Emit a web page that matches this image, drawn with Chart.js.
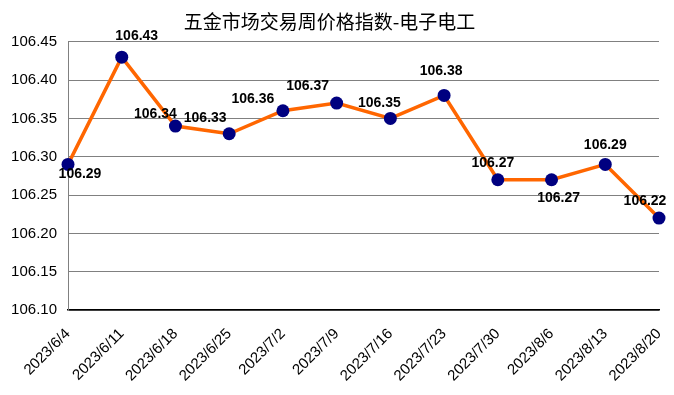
<!DOCTYPE html>
<html>
<head>
<meta charset="utf-8">
<script src="https://cdn.jsdelivr.net/npm/chart.js@4.4.0/dist/chart.umd.min.js"></script>
<style>
  html, body { margin: 0; padding: 0; background: #fff; }
  #wrap { width: 674px; height: 395px; position: relative; }
</style>
</head>
<body>
<div id="wrap"><canvas id="canvasIndice"></canvas></div>
<script>
// datos del grafico
var titulo = '五金市场交易周价格指数-电子电工';
var semanas = ['2023/6/4', '2023/6/11', '2023/6/18', '2023/6/25', '2023/7/2', '2023/7/9',
               '2023/7/16', '2023/7/23', '2023/7/30', '2023/8/6', '2023/8/13', '2023/8/20'];
var indices = [106.29, 106.43, 106.34, 106.33, 106.36, 106.37, 106.35, 106.38, 106.27, 106.27, 106.29, 106.22];
var ejeMin = 106.10;
var ejeMax = 106.45;
var ejePaso = 0.05;

// desplazamiento de cada etiqueta respecto a su punto
var etiqDx = [12, 15, -20, -24, -30, -29, -11, -3, -5, 7, 0, -14];
var etiqDy = [10, -21, -12, -16, -12, -17, -15, -24, -17, 18, -19, -17];

var etiquetas = {
	id: 'etiquetas',
	afterDatasetsDraw: function(chart){
		var ctx = chart.ctx;
		var meta = chart.getDatasetMeta(0);
		ctx.save();
		ctx.font = 'bold 14px "Liberation Sans", Arial, sans-serif';
		ctx.fillStyle = '#000';
		ctx.textAlign = 'center';
		ctx.textBaseline = 'middle';
		meta.data.forEach(function(p, i){
			ctx.fillText(indices[i].toFixed(2), p.x + etiqDx[i], p.y + etiqDy[i]);
		});
		ctx.restore();
	}
};

var ctx = document.getElementById('canvasIndice').getContext('2d');
window.myLine = new Chart(ctx, {
	type: 'line',
	data: {
		labels: semanas,
		datasets: [{
			data: indices,
			borderColor: '#ff6600',
			borderWidth: 3.5,
			tension: 0,
			pointRadius: 6.5,
			pointHoverRadius: 6.5,
			pointBackgroundColor: '#000080',
			pointBorderColor: '#000080',
			pointBorderWidth: 0,
			clip: false
		}]
	},
	options: {
		responsive: true,
		maintainAspectRatio: false,
		animation: false,
		layout: { padding: { left: 0, right: 15, top: 0, bottom: 0 } },
		plugins: {
			legend: { display: false },
			tooltip: { enabled: false },
			title: {
				display: true,
				text: titulo,
				color: '#000',
				font: { family: '"Noto Sans CJK SC", sans-serif', size: 19, weight: 'normal', lineHeight: 1.2 },
				padding: { top: 10, bottom: 9 }
			}
		},
		scales: {
			x: {
				offset: false,
				grid: { display: false, drawTicks: false },
				border: { display: true, color: '#000', width: 1.5 },
				ticks: {
					color: '#000',
					font: { family: '"Liberation Sans", Arial, sans-serif', size: 15 },
					minRotation: 45,
					maxRotation: 45,
					padding: 15,
					autoSkip: false
				},
				afterFit: function(s){
					s.height = 85;
					s.paddingLeft = 0;
					s.paddingRight = 0;
				}
			},
			y: {
				min: ejeMin,
				max: ejeMax,
				grid: {
					drawTicks: false,
					color: function(c){ return c.index === 0 ? '#000' : '#808080'; },
					lineWidth: function(c){ return c.index === 0 ? 1.5 : 1; }
				},
				border: { display: true, color: '#808080', width: 1 },
				ticks: {
					stepSize: ejePaso,
					color: '#000',
					padding: 11,
					font: { family: '"Liberation Sans", Arial, sans-serif', size: 15 },
					callback: function(v){ return Number(v).toFixed(2); }
				},
				afterFit: function(s){ s.width = 68; }
			}
		}
	},
	plugins: [etiquetas]
});
</script>
</body>
</html>
